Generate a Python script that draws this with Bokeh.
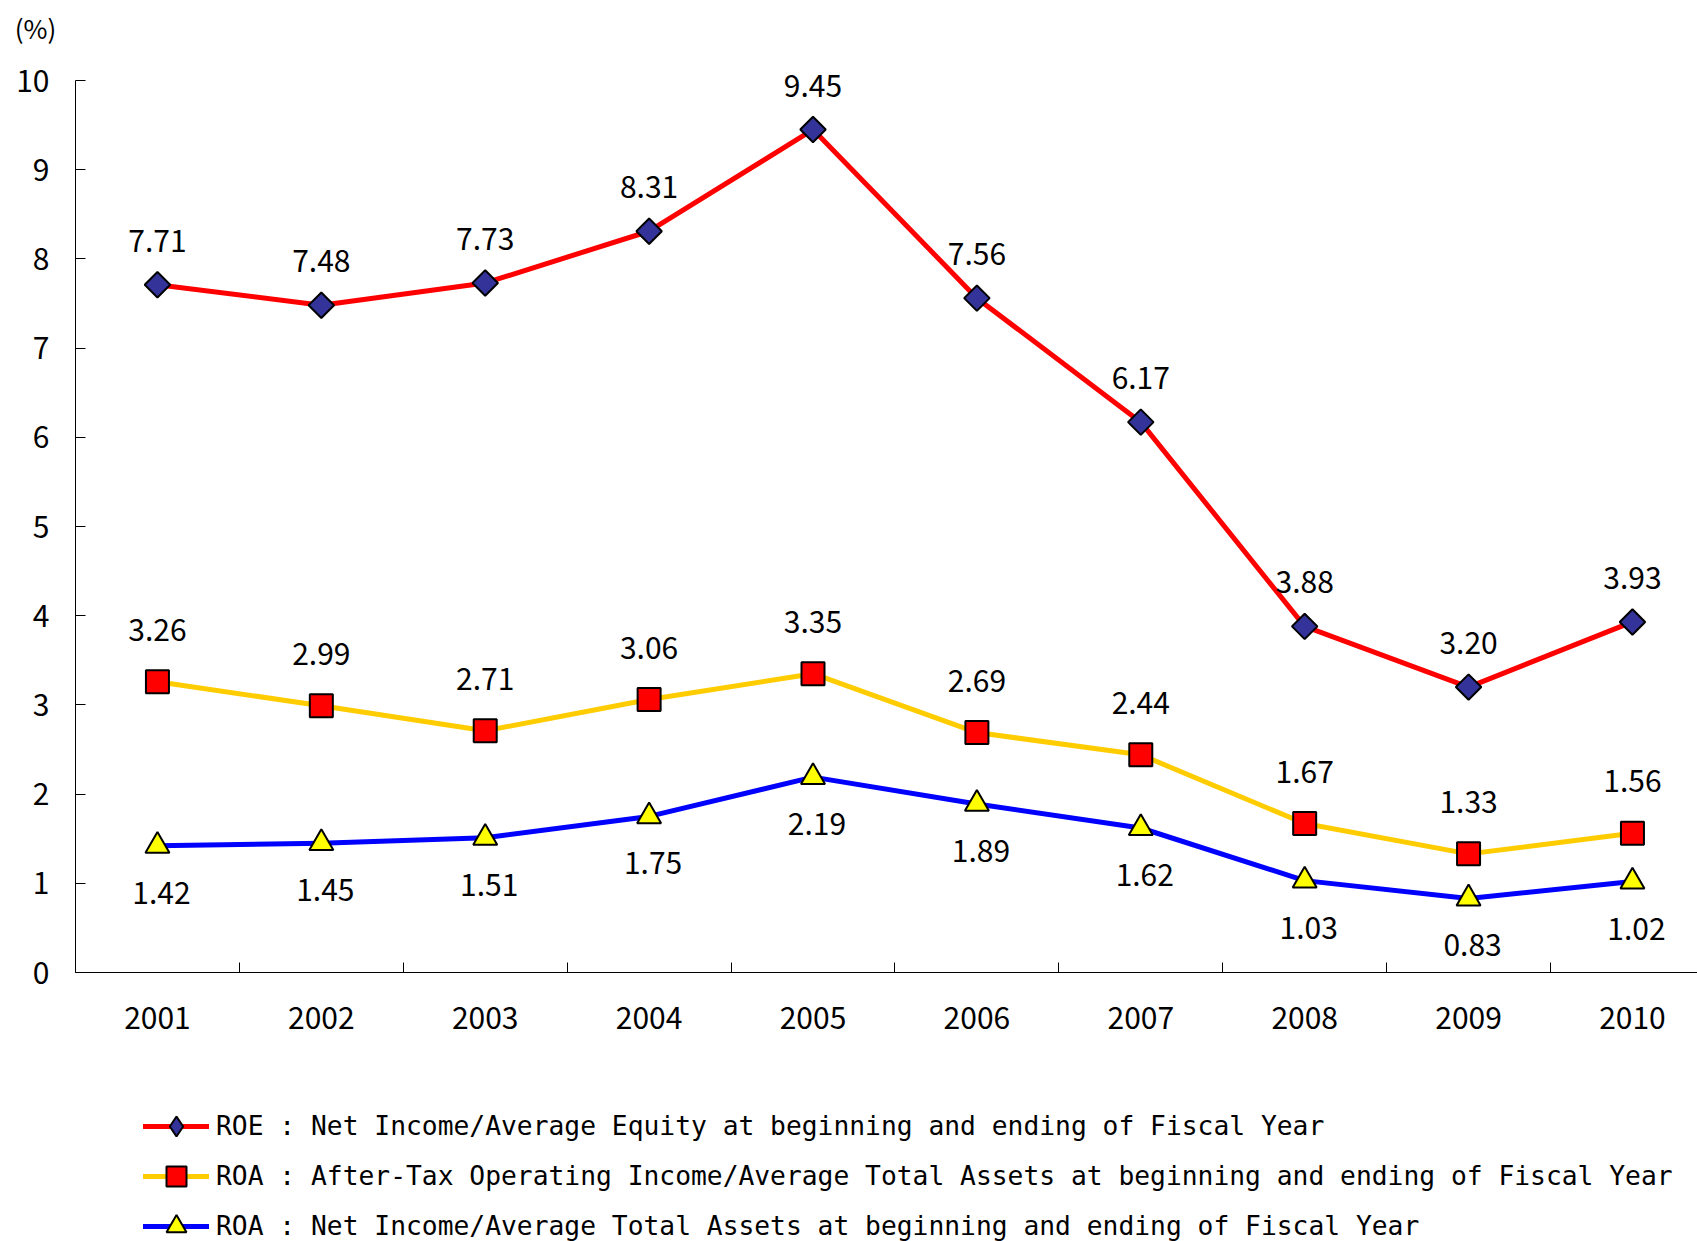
from bokeh.plotting import figure
from bokeh.models import (ColumnDataSource, FixedTicker, LabelSet, Label, Legend, LegendItem,
                          LinearAxis)
from bokeh.core.properties import value
from bokeh.embed import file_html
from bokeh.resources import INLINE

# ---- data ----
years = [2001, 2002, 2003, 2004, 2005, 2006, 2007, 2008, 2009, 2010]
roe = [7.71, 7.48, 7.73, 8.31, 9.45, 7.56, 6.17, 3.88, 3.20, 3.93]
roa_op = [3.26, 2.99, 2.71, 3.06, 3.35, 2.69, 2.44, 1.67, 1.33, 1.56]
roa_ni = [1.42, 1.45, 1.51, 1.75, 2.19, 1.89, 1.62, 1.03, 0.83, 1.02]
y_ticks = [0, 1, 2, 3, 4, 5, 6, 7, 8, 9, 10]
series_names = [
    "ROE : Net Income/Average Equity at beginning and ending of Fiscal Year",
    "ROA : After-Tax Operating Income/Average Total Assets at beginning and ending of Fiscal Year",
    "ROA : Net Income/Average Total Assets at beginning and ending of Fiscal Year",
]
unit_label = "(%)"

FONT = "Noto Sans CJK JP"
LEGEND_FONT = "DejaVu Sans Mono"

W, H = 1697, 1241
# pixel layout of the plotting area
PX_LEFT, PX_ZERO, PX_TOP = 75, 972, 80
px_per_year = 163.89
px_per_unit = (PX_ZERO - PX_TOP) / (y_ticks[-1] - y_ticks[0])
x0 = years[0] - 0.5
x_start = x0 - PX_LEFT / px_per_year
x_end = x0 + (W - PX_LEFT) / px_per_year
y_start = y_ticks[0] - (H - PX_ZERO) / px_per_unit
y_end = y_ticks[-1] + PX_TOP / px_per_unit

p = figure(width=W, height=H, output_backend="svg", toolbar_location=None,
           x_range=(x_start, x_end), y_range=(y_start, y_end),
           x_axis_location=None, y_axis_location=None,
           min_border=0, min_border_left=0, min_border_right=0,
           min_border_top=0, min_border_bottom=0)
p.outline_line_color = None
p.grid.visible = False
p.background_fill_color = "white"
p.border_fill_color = "white"

# axes
xa = LinearAxis(fixed_location=y_ticks[0], bounds=(x0, x_end))
xa.ticker = FixedTicker(ticks=years, minor_ticks=[y - 0.5 for y in years])
xa.major_label_overrides = {y: str(y) for y in years}
xa.major_tick_in = 0
xa.major_tick_out = 0
xa.minor_tick_in = 10
xa.minor_tick_out = 0
xa.minor_tick_line_color = "black"
xa.axis_line_color = "black"
xa.major_label_text_font = FONT
xa.major_label_text_font_size = "30px"
xa.major_label_text_color = "black"
xa.major_label_standoff = 34
p.add_layout(xa, "below")

ya = LinearAxis(fixed_location=x0, bounds=(y_ticks[0], y_ticks[-1]))
ya.ticker = FixedTicker(ticks=y_ticks, minor_ticks=[])
ya.major_tick_in = 10
ya.major_tick_out = 0
ya.major_tick_line_color = "black"
ya.axis_line_color = "black"
ya.major_label_text_font = FONT
ya.major_label_text_font_size = "30px"
ya.major_label_text_color = "black"
ya.major_label_standoff = 26
p.add_layout(ya, "left")

nan = float("nan")
src = ColumnDataSource(dict(x=years, roe=roe, roa_op=roa_op, roa_ni=roa_ni,
                            roe_t=[f"{v:.2f}" for v in roe],
                            op_t=[f"{v:.2f}" for v in roa_op],
                            ni_t=[f"{v:.2f}" for v in roa_ni]))
key_src = ColumnDataSource(dict(x=[nan], y=[nan]))

line_kw = dict(line_width=5, line_cap="round", line_join="round")
l1 = p.line("x", "roe", source=src, line_color="#FF0000", **line_kw)
m1 = p.scatter("x", "roe", source=src, marker="square", angle=0.785398, size=18,
               fill_color="#333399", line_color="black", line_width=2)
# legend-only diamond key (legend keys are drawn unrotated)
k1 = p.scatter("x", "y", source=key_src, marker="diamond",
               fill_color="#333399", line_color="black", line_width=2)
l2 = p.line("x", "roa_op", source=src, line_color="#FFCC00", **line_kw)
m2 = p.scatter("x", "roa_op", source=src, marker="square", size=23,
               fill_color="#FF0000", line_color="black", line_width=2)
l3 = p.line("x", "roa_ni", source=src, line_color="#0000FF", **line_kw)
m3 = p.scatter("x", "roa_ni", source=src, marker="triangle", size=24,
               fill_color="#FFFF00", line_color="black", line_width=2)

lab_kw = dict(source=src, text_font=value(FONT), text_font_size=value("30px"),
              text_color="black", text_align="center", text_baseline="middle")
p.add_layout(LabelSet(x="x", y="roe", text="roe_t", y_offset=44, **lab_kw))
p.add_layout(LabelSet(x="x", y="roa_op", text="op_t", y_offset=52, **lab_kw))
p.add_layout(LabelSet(x="x", y="roa_ni", text="ni_t", y_offset=-47, x_offset=4, **lab_kw))

p.add_layout(Label(x=35, y=H - 27, x_units="screen", y_units="screen", text=unit_label,
                   text_font=FONT, text_font_size="26px", text_color="black",
                   text_align="center", text_baseline="middle"))

legend = Legend(items=[
    LegendItem(label=series_names[0], renderers=[l1, k1]),
    LegendItem(label=series_names[1], renderers=[l2, m2]),
    LegendItem(label=series_names[2], renderers=[l3, m3]),
], location=(143, -10), orientation="vertical",
    glyph_width=66, glyph_height=50, label_height=50, spacing=0,
    label_standoff=7, padding=0, margin=0,
    border_line_color=None, background_fill_alpha=0,
    label_text_font=LEGEND_FONT, label_text_font_size="26.3px", label_text_color="black")
p.add_layout(legend)

open("out.html", "w").write(file_html(p, INLINE))
